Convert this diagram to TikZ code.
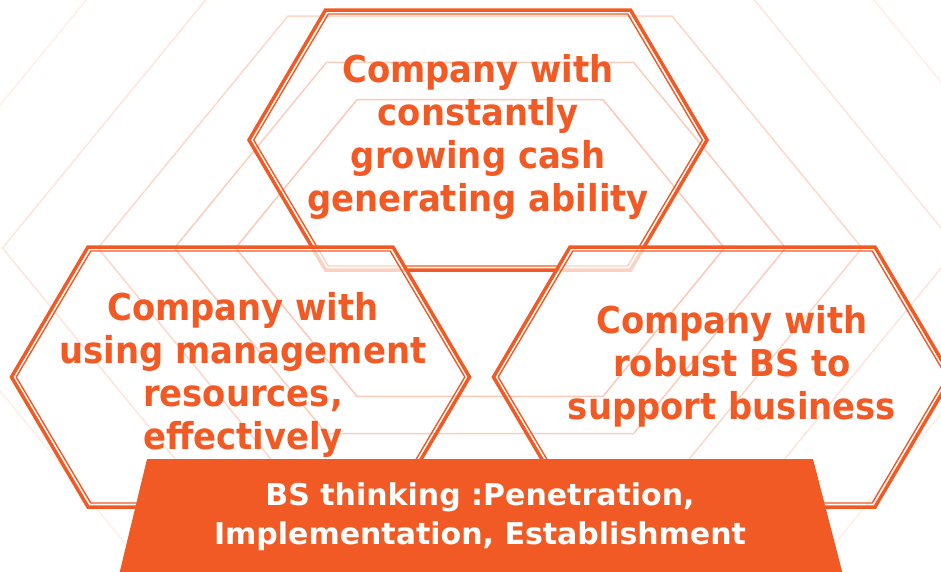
\documentclass[tikz,border=0pt]{standalone}
\usepackage{fontspec}
\setmainfont{DejaVu Sans}
\newfontfamily\hexfont[FakeStretch=0.915]{DejaVu Sans}
\usepackage{xcolor}
\usetikzlibrary{calc,positioning}
\definecolor{bsorange}{RGB}{241,90,36}

% thick-thin hexagon frame round a named centre
\newcommand{\bshex}[2]{%
  \draw[hex outer,#2,shift={(#1)}] (-229,0) -- (-152.5,-130) -- (152.5,-130) -- (229,0) -- (152.5,130) -- (-152.5,130) -- cycle;
  \draw[hex inner,shift={(#1)}] (-224.3,0) -- (-149.7,-126) -- (149.7,-126) -- (224.3,0) -- (149.7,126) -- (-149.7,126) -- cycle;}

\begin{document}
\begin{tikzpicture}[
	%	style def
    x=1pt, y=-1pt,
    hex outer/.style={draw=bsorange, line width=3.5pt, line join=miter},
    hex inner/.style={draw=bsorange, line width=1.4pt, line join=miter},
    veil/.style={fill=white, fill opacity=0.72},
    bg line/.style={draw=bsorange, line width=1.5pt},
    hex text/.style={text=bsorange, font=\hexfont\bfseries\fontsize{37}{43}\selectfont, align=center, inner sep=0pt},
    bs text/.style={text=white, font=\bfseries\fontsize{30}{39}\selectfont, align=center, inner sep=0pt}
    ]
    \useasboundingbox (0,0) rectangle (941,571);

    % centres
    \coordinate (top) at (478,140);
    \coordinate (left) at (240.5,377);
    \coordinate (right) at (722.5,377);
    \coordinate (bgc) at (480,248);

    % upper hexagon
    \bshex{top}{}
    % lower hexagons, veiled so the upper one shows faintly
    \bshex{left}{veil}
    \bshex{right}{veil}

    % faint nested hexagons behind
    \foreach \s/\o in {0.64/0.33, 0.8/0.3, 1/0.24, 1.25/0.16, 1.5625/0.1, 1.953/0.06, 2.441/0.035}
        \draw[bg line, draw opacity=\o, shift={(bgc)}, scale=\s] (-382,0) -- (-192,-232) -- (192,-232) -- (382,0) -- (192,232) -- (-192,232) -- cycle;

    % base band
    \fill[bsorange] (147,459) coordinate (band tl) -- (813,459) coordinate (band tr)
        -- (843,575) coordinate (band br) -- (119,575) coordinate (band bl) -- cycle;

    % texts
    \node[hex text] (cash) at (478,137) {Company with\\constantly\\growing cash\\generating ability};
    \node[hex text] (resources) at (243,375) {Company with\\using management\\resources,\\effectively};
    \node[hex text] (robust) at (732,366) {Company with\\robust BS to\\support business};
    \node[bs text] (thinking) at (480,516.5) {BS thinking :Penetration,\\Implementation, Establishment};

\end{tikzpicture}
\end{document}
